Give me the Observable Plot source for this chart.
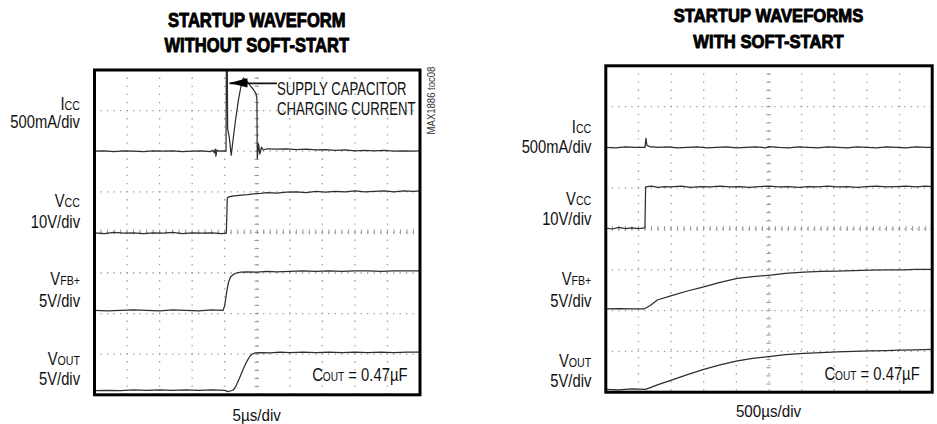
<!DOCTYPE html>
<html>
<head>
<meta charset="utf-8">
<script src="https://cdn.jsdelivr.net/npm/d3@7"></script>
<script src="https://cdn.jsdelivr.net/npm/@observablehq/plot@0.6"></script>
<style>
  html, body { margin: 0; padding: 0; background: #fff; }
  #wrap { position: relative; width: 937px; height: 424px; overflow: hidden; background: #fff; }
  #wrap svg { position: absolute; top: 0; }
</style>
</head>
<body>
<div id="wrap"></div>
<script>
// ---------- DATA (x in divisions 0..10, y in divisions 0..8) ----------
// Left panel: without soft-start (5us/div)
const iccL = [
  [0,6.00],[0.3,6.01],[0.6,5.99],[0.9,6.01],[1.2,6.00],[1.5,5.99],[1.8,6.01],[2.1,6.00],[2.4,6.01],[2.7,5.99],
  [3.0,6.00],[3.3,6.01],[3.55,5.99],[3.64,6.02],[3.68,5.96],[3.71,6.05],[3.73,5.88],[3.76,6.03],[3.82,6.00],[3.95,6.01],
  [4.04,6.00],[4.05,8.0],[4.08,8.0],[4.09,6.55],[4.14,6.35],[4.20,5.90],[4.26,6.30],[4.33,6.75],[4.42,7.25],[4.50,7.60],
  [4.57,7.80],[4.66,7.75],[4.78,7.62],[4.88,7.52],[4.96,7.42],[4.99,7.30],[5.00,5.82],[5.04,6.18],[5.08,5.93],[5.13,6.10],
  [5.18,6.03],[5.30,6.06],[5.60,6.05],[5.90,6.06],[6.20,6.04],[6.50,6.05],[6.80,6.03],[7.10,6.04],[7.40,6.02],[7.70,6.03],
  [8.00,6.01],[8.30,6.02],[8.60,6.01],[8.90,6.02],[9.20,6.00],[9.50,6.01],[9.80,6.00],[10,6.01]
];
const vccL = [
  [0,3.99],[0.3,3.97],[0.6,4.00],[0.9,3.98],[1.2,3.99],[1.5,3.97],[1.8,3.99],[2.1,3.98],[2.4,4.00],[2.7,3.97],
  [3.0,3.99],[3.3,3.98],[3.6,3.99],[3.9,3.97],[4.05,3.98],[4.08,4.85],[4.15,4.88],[4.3,4.90],[4.5,4.92],[4.7,4.93],
  [4.9,4.95],[5.1,4.96],[5.3,4.98],[5.6,4.97],[5.9,4.99],[6.2,5.00],[6.5,4.98],[6.8,5.01],[7.1,4.99],[7.4,5.01],
  [7.7,5.00],[8.0,5.02],[8.3,5.00],[8.6,5.01],[8.9,5.02],[9.2,5.00],[9.5,5.02],[9.8,5.01],[10,5.02]
];
const vfbL = [
  [0,2.08],[0.4,2.07],[0.8,2.08],[1.2,2.09],[1.6,2.08],[2.0,2.07],[2.4,2.09],[2.8,2.08],[3.2,2.07],[3.6,2.09],
  [3.95,2.08],[4.0,2.20],[4.04,2.42],[4.08,2.62],[4.12,2.78],[4.18,2.90],[4.26,2.96],[4.36,3.00],[4.5,3.02],[4.7,3.03],
  [5.0,3.02],[5.3,3.04],[5.6,3.03],[6.0,3.04],[6.4,3.05],[6.8,3.04],[7.2,3.05],[7.6,3.04],[8.0,3.05],[8.4,3.05],
  [8.8,3.04],[9.2,3.05],[9.6,3.05],[10,3.05]
];
const voutL = [
  [0,0.10],[0.4,0.11],[0.8,0.10],[1.2,0.12],[1.6,0.11],[2.0,0.12],[2.4,0.11],[2.8,0.12],[3.2,0.11],[3.6,0.12],
  [4.0,0.11],[4.1,0.08],[4.2,0.10],[4.27,0.12],[4.35,0.22],[4.45,0.40],[4.55,0.60],[4.65,0.78],[4.75,0.92],[4.84,1.00],
  [4.93,1.03],[5.1,1.04],[5.4,1.03],[5.7,1.05],[6.0,1.04],[6.4,1.05],[6.8,1.04],[7.2,1.05],[7.6,1.04],[8.0,1.05],
  [8.4,1.04],[8.8,1.05],[9.2,1.04],[9.6,1.05],[10,1.05]
];
// Right panel: with soft-start (500us/div)
const iccR = [
  [0,6.00],[0.3,5.99],[0.6,6.01],[0.9,6.00],[1.2,6.00],[1.23,6.22],[1.26,6.05],[1.35,6.02],[1.6,6.00],[1.9,6.01],
  [2.2,5.99],[2.5,6.00],[2.8,6.01],[3.1,5.99],[3.4,6.00],[3.7,6.01],[4.0,5.99],[4.3,6.00],[4.6,6.01],[4.9,5.99],
  [5.0,6.02],[5.3,6.00],[5.6,5.99],[5.9,6.01],[6.2,6.00],[6.5,5.99],[6.8,6.01],[7.1,6.00],[7.4,5.99],[7.7,6.01],
  [8.0,6.00],[8.3,5.99],[8.6,6.01],[8.9,6.00],[9.2,5.99],[9.5,6.01],[9.8,6.00],[10,6.00]
];
const vccR = [
  [0,4.02],[0.2,4.00],[0.4,4.04],[0.6,4.01],[0.8,4.03],[1.0,4.01],[1.2,4.03],[1.22,5.03],[1.4,5.05],[1.6,5.02],
  [1.8,5.04],[2.0,5.03],[2.3,5.05],[2.6,5.02],[2.9,5.04],[3.2,5.03],[3.5,5.05],[3.8,5.03],[4.1,5.04],[4.4,5.02],
  [4.7,5.04],[5.0,5.05],[5.3,5.03],[5.6,5.04],[5.9,5.02],[6.2,5.04],[6.5,5.03],[6.8,5.05],[7.1,5.03],[7.4,5.04],
  [7.7,5.02],[8.0,5.04],[8.3,5.05],[8.6,5.03],[8.9,5.04],[9.2,5.05],[9.5,5.03],[9.8,5.05],[10,5.04]
];
const vfbR = [
  [0,2.04],[0.4,2.05],[0.8,2.04],[1.17,2.04],[1.35,2.12],[1.58,2.26],[1.99,2.36],[2.5,2.48],[3.0,2.58],[3.5,2.69],
  [4.03,2.79],[4.5,2.83],[5.05,2.87],[5.5,2.91],[6.07,2.94],[6.6,2.96],[7.08,2.97],[7.6,2.98],[8.1,2.99],[8.6,3.00],
  [9.1,3.00],[9.5,3.01],[10,3.01]
];
const voutR = [
  [0,0.07],[0.4,0.06],[0.8,0.08],[1.22,0.07],[1.58,0.18],[1.99,0.29],[2.5,0.43],[3.0,0.56],[3.5,0.67],[4.03,0.77],
  [4.5,0.83],[5.05,0.88],[5.5,0.92],[6.07,0.95],[6.6,0.97],[7.08,0.99],[7.6,1.00],[8.1,1.01],[8.6,1.02],[9.0,1.03],
  [9.5,1.04],[10,1.05]
];
// Channel labels: [name, subscript, scale, name baseline (div), unit baseline (div)]
const labelsL = [
  ["I","CC","500mA/div",7.00,6.56],
  ["V","CC","10V/div",4.62,4.10],
  ["V","FB+","5V/div",2.69,2.16],
  ["V","OUT","5V/div",0.72,0.23]
];
const labelsR = [
  ["I","CC","500mA/div",6.34,5.85],
  ["V","CC","10V/div",4.58,4.09],
  ["V","FB+","5V/div",2.61,2.08],
  ["V","OUT","5V/div",0.61,0.12]
];
const titleL = ["STARTUP WAVEFORM", "WITHOUT SOFT-START"];
const titleR = ["STARTUP WAVEFORMS", "WITH SOFT-START"];
const timebaseL = "5\u00b5s/div";
const timebaseR = "500\u00b5s/div";
const coutText = ["C", "OUT", " = 0.47\u00b5F"];
const annotation = ["SUPPLY CAPACITOR", "CHARGING CURRENT"];
const annotationArrow = {x1: 5.62, x2: 4.16, y: 7.67};
const tocL = "MAX1886 toc08";

// ---------- DRAWING ----------
const FONT = "'Liberation Sans', Arial, Helvetica, sans-serif";
const toPts = a => a.map(([x, y]) => ({x, y}));
const xGrid = d3.range(1, 10);
const yGrid = d3.range(1, 8);
const xMinor = d3.range(0.2, 10, 0.2);
const yMinor = d3.range(0.2, 8, 0.2);

function panel(cfg) {
  const traceStyle = {x: "x", y: "y", stroke: "#2e2e2e", strokeWidth: 1.25, clip: true};
  const plot = Plot.plot({
    width: cfg.width, height: 424,
    marginLeft: cfg.ml, marginRight: cfg.mr, marginTop: cfg.mt, marginBottom: cfg.mb,
    x: {domain: [0, 10], axis: null},
    y: {domain: [0, 8], axis: null},
    style: {background: "transparent", overflow: "visible"},
    marks: [
      Plot.ruleX(xGrid, {stroke: "#999", strokeWidth: 1.3, strokeDasharray: "1.3,6.8"}),
      Plot.ruleY(yGrid, {stroke: "#999", strokeWidth: 1.3, strokeDasharray: "1.3,5.2"}),
      Plot.ruleX(xMinor, {y1: 3.94, y2: 4.06, stroke: "#999", strokeWidth: 1}),
      Plot.ruleY(yMinor, {x1: 4.93, x2: 5.07, stroke: "#999", strokeWidth: 1}),
      ...cfg.traces.map(t => Plot.line(toPts(t), traceStyle)),
      ...(cfg.arrow ? [Plot.ruleY([cfg.arrow], {x1: "x1", x2: "x2", y: "y", stroke: "#111", strokeWidth: 1.6})] : []),
      Plot.frame({stroke: "#000", strokeWidth: 3})
    ]
  });
  const sx = plot.scale("x").apply, sy = plot.scale("y").apply;
  const svg = d3.select(plot);
  const x0 = sx(0), x1 = sx(10), y0 = sy(0), y8 = sy(8), xc = (x0 + x1) / 2;
  function text(x, y, parts, o = {}) {
    const g = svg.append("g")
      .attr("transform", `translate(${x},${y})${o.rotate ? ` rotate(${o.rotate})` : ""} scale(${o.sx || 0.8},1)`);
    const t = g.append("text").attr("x", 0).attr("y", 0)
      .attr("text-anchor", o.anchor || "start")
      .attr("font-family", FONT).attr("font-size", o.size || 18.5)
      .attr("font-weight", o.weight || "normal").attr("fill", o.fill || "#111");
    if (o.stroke) t.attr("stroke", o.fill || "#111").attr("stroke-width", o.stroke).attr("stroke-linejoin", "round");
    for (const p of parts) {
      if (typeof p === "string") t.append("tspan").text(p);
      else t.append("tspan").attr("font-size", p.size).text(p.t);
    }
    return t;
  }
  // titles
  const tOpt = {anchor: "middle", size: cfg.titleSize, sx: cfg.titleSx, weight: "bold", fill: "#000", stroke: 0.9};
  text(xc, y8 + cfg.titleDy[0], [cfg.title[0]], tOpt);
  text(xc, y8 + cfg.titleDy[1], [cfg.title[1]], tOpt);
  // channel labels
  for (const [n, s, u, yn, yu] of cfg.labels) {
    text(x0 - 14, sy(yn), [n, {t: s, size: 13}], {anchor: "end", size: 18, sx: 0.82});
    text(x0 - 14, sy(yu), [u], {anchor: "end", size: 18, sx: 0.82});
  }
  // timebase
  text(xc, y0 + cfg.tbDy, [cfg.timebase], {anchor: "middle", size: 16.5, sx: 0.92});
  // Cout
  text(x1 - 12, y0 - cfg.coutDy, [coutText[0], {t: coutText[1], size: 13}, coutText[2]], {anchor: "end", size: 19, sx: 0.78});
  if (cfg.arrow) {
    const tx = sx(cfg.arrow.x2), ty = sy(cfg.arrow.y);
    svg.append("path").attr("d", `M${tx},${ty}L${tx + 18},${ty - 4.6}L${tx + 18},${ty + 4.6}Z`).attr("fill", "#000");
    text(sx(cfg.arrow.x1), ty + 12.5, [annotation[0]], {size: 18, sx: 0.73});
    text(sx(cfg.arrow.x1), ty + 32.5, [annotation[1]], {size: 18, sx: 0.73});
  }
  if (cfg.toc) {
    text(x1 + 15, y8 + 31, [cfg.toc], {anchor: "middle", size: 11.5, sx: 0.83, fill: "#333", rotate: -90});
  }
  return plot;
}

const wrap = document.getElementById("wrap");
const left = panel({
  width: 468, ml: 94, mr: 48.5, mt: 69.5, mb: 29.7,
  traces: [iccL, vccL, vfbL, voutL], labels: labelsL, title: titleL, titleSize: 19.5, titleSx: 0.85,
  titleDy: [-42.5, -17.8], timebase: timebaseL, tbDy: 26.2, coutDy: 13.5,
  arrow: annotationArrow, toc: tocL
});
left.style.left = "0px";
wrap.appendChild(left);
const right = panel({
  width: 469, ml: 137.3, mr: 5.3, mt: 65.3, mb: 32.3,
  traces: [iccR, vccR, vfbR, voutR], labels: labelsR, title: titleR, titleSize: 18, titleSx: 0.925,
  titleDy: [-43.6, -17.3], timebase: timebaseR, tbDy: 25.6, coutDy: 11.7
});
right.style.left = "468px";
wrap.appendChild(right);
</script>
</body>
</html>
